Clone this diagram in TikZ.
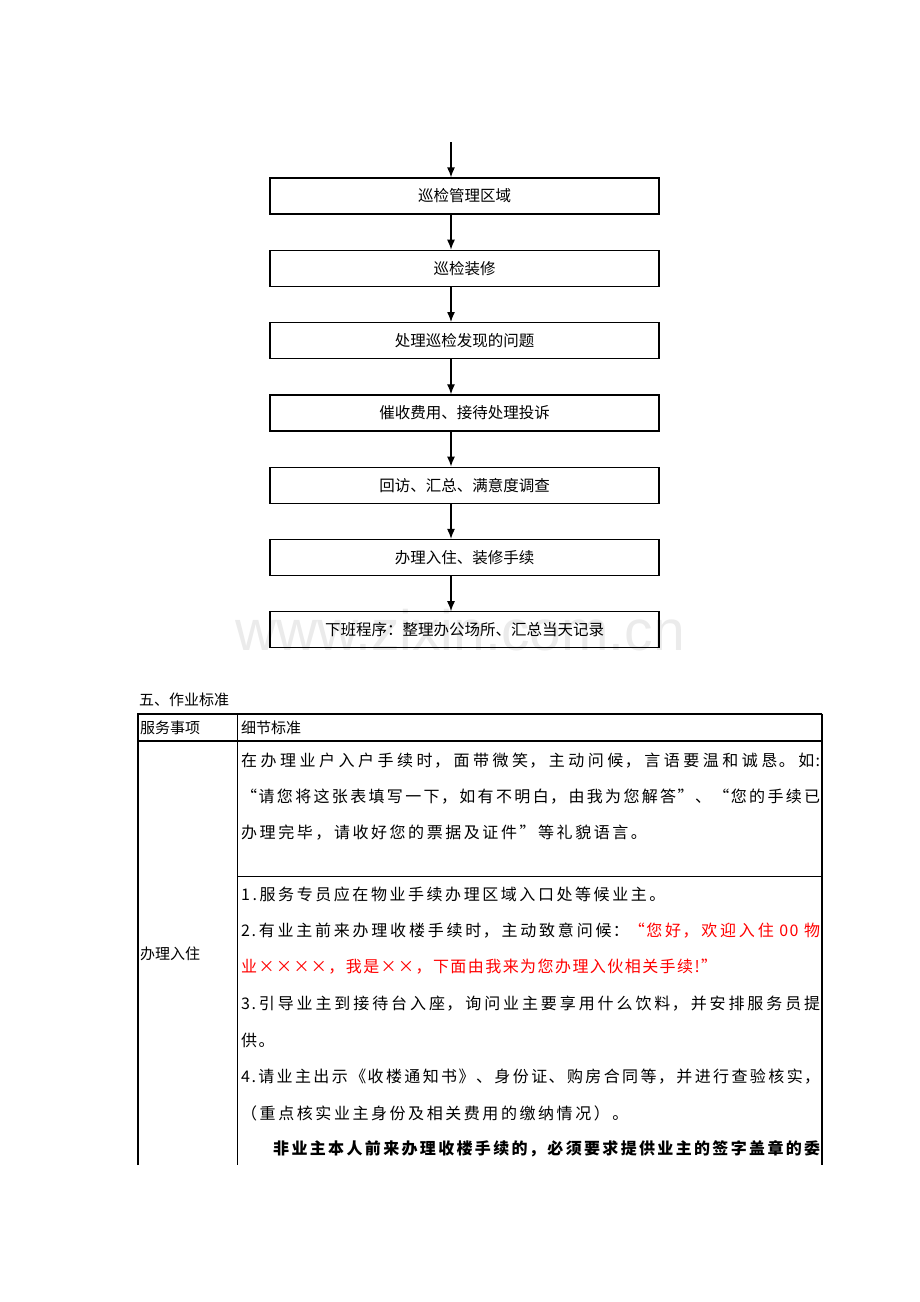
\documentclass[tikz,border=0pt]{standalone}
\usepackage{fontspec}
\setmainfont{Noto Sans CJK SC}
\newfontfamily\song[LetterSpace=9.0]{Noto Sans CJK SC}
\newfontfamily\songw[LetterSpace=16.0]{Noto Sans CJK SC}
\newfontfamily\wmfont{Liberation Sans}
\XeTeXlinebreaklocale "zh"
\XeTeXlinebreakskip=0pt plus 12pt
\usetikzlibrary{arrows.meta}

\newcommand\jl[1]{{\parfillskip=0pt\relax #1\par}}

\begin{document}
\begin{tikzpicture}[x=1pt,y=-1pt,node distance=72.3pt,
    stepbox/.style={draw,line width=1.2pt,minimum width=389pt,minimum height=36pt,inner sep=0pt,
      font=\fontsize{15.5}{18}\selectfont},
    flow/.style={line width=1.3pt,-{Latex[length=10pt,width=8pt]}},
    hdr/.style={anchor=west,inner sep=0pt,font=\fontsize{15}{18}\selectfont},
    cell/.style={anchor=west,inner sep=0pt,font=\song\fontsize{16}{20}\selectfont},
    widecell/.style={cell,font=\songw\fontsize{16}{20}\selectfont},
    full/.style={cell,text width=579pt,align=justify}]
    \useasboundingbox (0,0) rectangle (920,1302);

    % watermark
    \node[text=gray!16,font=\wmfont\fontsize{57}{60}\selectfont,inner sep=0pt] (wm) at (460,630) {www.zixin.com.cn};

    \coordinate (top) at (451,142);
    \node [stepbox] (b1) at (464.5,196) {巡检管理区域};
    \node [stepbox,below of=b1] (b2) {巡检装修};
    \node [stepbox,below of=b2] (b3) {处理巡检发现的问题};
    \node [stepbox,below of=b3] (b4) {催收费用、接待处理投诉};
    \node [stepbox,below of=b4] (b5) {回访、汇总、满意度调查};
    \node [stepbox,below of=b5] (b6) {办理入住、装修手续};
    \node [stepbox,below of=b6] (b7) {下班程序：整理办公场所、汇总当天记录};

    \draw [flow] (top) -- (top |- b1.north);
    \foreach \a/\b in {b1/b2,b2/b3,b3/b4,b4/b5,b5/b6,b6/b7}
      \draw [flow] (top |- \a.south) -- (top |- \b.north);

    % table
    \node [hdr] (title) at (139,700) {五、作业标准};
    \draw [line width=2pt] (137.7,1165) -- (137.7,713.5) -- (822,713.5);
    \draw [line width=1.4pt] (822,713.5) -- (822,1165);
    \draw [line width=1.4pt] (137.7,741) -- (822,741);
    \draw [line width=1pt] (237,713.5) -- (237,1165);
    \draw [line width=1pt] (237,876) -- (822,876);

    \node [hdr] (h1) at (140,728) {服务事项};
    \node [hdr] (h2) at (241,728) {细节标准};
    \node [hdr] (item) at (140,954) {办理入住};

    \node [full] (r1a) at (241,761) {\jl{在办理业户入户手续时，面带微笑，主动问候，言语要温和诚恳。如:}};
    \node [full] (r1b) at (241,797) {\jl{“请您将这张表填写一下，如有不明白，由我为您解答”、“您的手续已}};
    \node [widecell] (r1c) at (241,833) {办理完毕，请收好您的票据及证件”等礼貌语言。};

    \node [widecell] (r2a) at (241,894) {1.服务专员应在物业手续办理区域入口处等候业主。};
    \node [full] (r2b) at (241,931) {\jl{2.有业主前来办理收楼手续时，主动致意问候：\textcolor{red}{“您好，欢迎入住 00 物}}};
    \node [cell,text=red] (r2c) at (241,967) {业××××，我是××，下面由我来为您办理入伙相关手续!”};
    \node [full] (r2d) at (241,1004) {\jl{3.引导业主到接待台入座，询问业主要享用什么饮料，并安排服务员提}};
    \node [cell] (r2e) at (241,1040) {供。};
    \node [full] (r2f) at (241,1077) {\jl{4.请业主出示《收楼通知书》、身份证、购房合同等，并进行查验核实，}};
    \node [widecell] (r2g) at (241,1113) {（重点核实业主身份及相关费用的缴纳情况）。};
    \node [full,text width=547pt,font=\song\bfseries\fontsize{16}{20}\selectfont] (r2h) at (273,1149) {\jl{非业主本人前来办理收楼手续的，必须要求提供业主的签字盖章的委}};
\end{tikzpicture}
\end{document}
